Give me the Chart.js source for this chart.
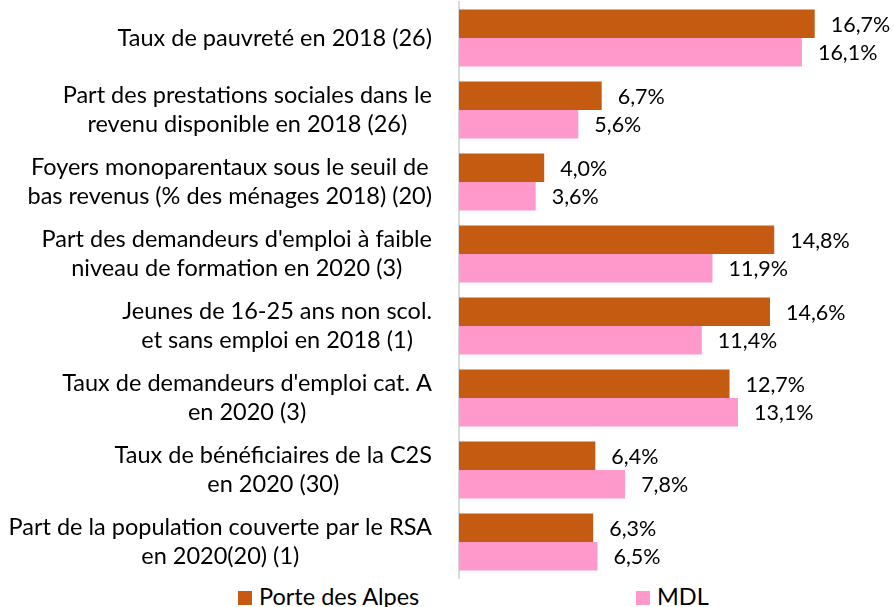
<!DOCTYPE html>
<html>
<head>
<meta charset="utf-8">
<script src="https://cdn.jsdelivr.net/npm/chart.js@4"></script>
<style>
    body { margin: 0; background: #fff; font-family: Lato, "Open Sans", sans-serif; }
    #wrap { position: relative; width: 894px; height: 607px; }
    #chart-box { position: absolute; left: 0; top: 0; width: 894px; height: 580px; }
    .legend-item { position: absolute; top: 582px; font-size: 23.5px; color: #000; line-height: 28px; white-space: nowrap; }
    .legend-item span { display: inline-block; width: 14px; height: 14px; margin-right: 7px; vertical-align: 0px; }
</style>
</head>
<body>
<div id="wrap">
    <div id="chart-box"><canvas id="barChart"></canvas></div>
    <div class="legend-item" style="left:238px"><span style="background:#C55A11"></span>Porte des Alpes</div>
    <div class="legend-item" style="left:636px"><span style="background:#FF99CC"></span>MDL</div>
</div>
<script>
const categories = [
    ['Taux de pauvreté en 2018 (26)'],
    ['Part des prestations sociales dans le', 'revenu disponible en 2018 (26)'],
    ['Foyers monoparentaux sous le seuil de', 'bas revenus (% des ménages 2018) (20)'],
    ["Part des demandeurs d'emploi à faible", 'niveau de formation en 2020 (3)'],
    ['Jeunes de 16-25 ans non scol.', 'et sans emploi en 2018 (1)'],
    ["Taux de demandeurs d'emploi cat. A", 'en 2020 (3)'],
    ['Taux de bénéficiaires de la C2S', 'en 2020 (30)'],
    ['Part de la population couverte par le RSA', 'en 2020(20) (1)']
];
const porteDesAlpes = [16.7, 6.7, 4.0, 14.8, 14.6, 12.7, 6.4, 6.3];
const mdl = [16.1, 5.6, 3.6, 11.9, 11.4, 13.1, 7.8, 6.5];

const FONT = '23.5px Lato, "Open Sans", sans-serif';
const VALUE_FONT = '21.5px Lato, "Open Sans", sans-serif';
const fmt = v => v.toFixed(1).replace('.', ',') + '%';

// value labels after each bar
const valueLabels = {
    id: 'valueLabels',
    afterDatasetsDraw(chart) {
        const ctx = chart.ctx;
        ctx.save();
        ctx.font = VALUE_FONT;
        ctx.fillStyle = '#000';
        ctx.textBaseline = 'middle';
        ctx.textAlign = 'left';
        chart.data.datasets.forEach((ds, i) => {
            chart.getDatasetMeta(i).data.forEach((bar, j) => {
                ctx.fillText(fmt(ds.data[j]), bar.x + 16, bar.y + 1);
            });
        });
        ctx.restore();
    }
};

// category labels: block right-aligned to the axis, lines centred inside the block
const categoryLabels = {
    id: 'categoryLabels',
    afterDraw(chart) {
        const ctx = chart.ctx;
        const y = chart.scales.y;
        const right = chart.chartArea.left - 27;
        const lineH = 29.5;
        ctx.save();
        ctx.font = FONT;
        ctx.fillStyle = '#000';
        ctx.textBaseline = 'middle';
        ctx.textAlign = 'center';
        categories.forEach((lines, i) => {
            const w = Math.max(...lines.map(l => ctx.measureText(l).width));
            const cx = right - w / 2;
            const cy = y.getPixelForValue(i);
            const top = cy - (lines.length - 1) * lineH / 2;
            lines.forEach((l, k) => ctx.fillText(l, cx, top + k * lineH));
        });
        ctx.restore();
    }
};

const ctx = document.getElementById('barChart').getContext('2d');
new Chart(ctx, {
    type: 'bar',
    data: {
        labels: categories.map(c => c.join(' ')),
        datasets: [
            { label: 'Porte des Alpes', data: porteDesAlpes, backgroundColor: '#C55A11' },
            { label: 'MDL', data: mdl, backgroundColor: '#FF99CC' }
        ]
    },
    options: {
        indexAxis: 'y',
        responsive: true,
        maintainAspectRatio: false,
        animation: false,
        layout: { padding: { top: 2, right: 9, bottom: 2, left: 0 } },
        datasets: { bar: { categoryPercentage: 0.79, barPercentage: 1 } },
        plugins: {
            legend: { display: false },
            tooltip: { enabled: false }
        },
        scales: {
            x: {
                min: 0,
                max: 20,
                display: false
            },
            y: {
                grid: { display: false, drawTicks: false },
                border: { color: '#D9D9D9', width: 2 },
                ticks: { display: false },
                afterFit(scale) {
                    scale.width = 459;
                    scale.paddingTop = 0;
                    scale.paddingBottom = 0;
                }
            }
        }
    },
    plugins: [valueLabels, categoryLabels]
});
</script>
</body>
</html>
